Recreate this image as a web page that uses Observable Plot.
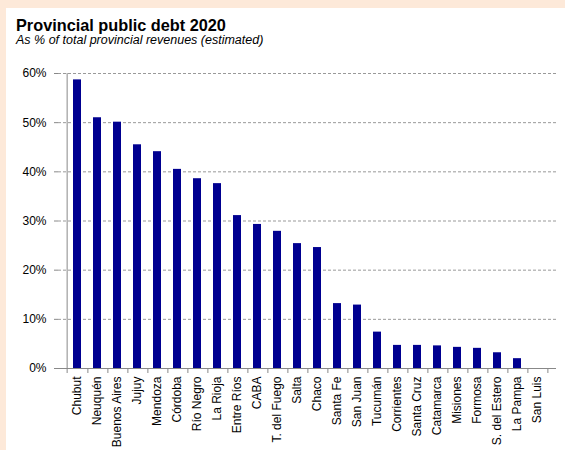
<!DOCTYPE html>
<html>
<head>
<meta charset="utf-8">
<script src="https://cdn.jsdelivr.net/npm/d3@7"></script>
<script src="https://cdn.jsdelivr.net/npm/@observablehq/plot@0.6"></script>
<style>
  html, body { margin: 0; padding: 0; }
  body { width: 565px; height: 450px; background: #FDE9D9; position: relative; overflow: hidden; font-family: "Liberation Sans", Arial, sans-serif; }
  #panel { position: absolute; left: 6px; top: 8px; width: 559px; height: 442px; background: #fff; }
  #title { position: absolute; left: 16px; top: 18px; font-size: 16.3px; line-height: 14px; font-weight: bold; color: #000; white-space: nowrap; }
  #subtitle { position: absolute; left: 16px; top: 34.6px; font-size: 12.5px; line-height: 11px; font-style: italic; color: #000; white-space: nowrap; }
  #chart { position: absolute; left: 0; top: 50px; }
</style>
</head>
<body>
<div id="panel"></div>
<div id="title">Provincial public debt 2020</div>
<div id="subtitle">As % of total provincial revenues (estimated)</div>
<div id="chart"></div>
<script>
const categories = ["Chubut", "Neuquén", "Buenos Aires", "Jujuy", "Mendoza", "Córdoba", "Río Negro", "La Rioja", "Entre Ríos", "CABA", "T. del Fuego", "Salta", "Chaco", "Santa Fe", "San Juan", "Tucumán", "Corrientes", "Santa Cruz", "Catamarca", "Misiones", "Formosa", "S. del Estero", "La Pampa", "San Luis"];
const values = [58.7, 51.0, 50.1, 45.5, 44.1, 40.5, 38.6, 37.6, 31.1, 29.3, 27.9, 25.4, 24.6, 13.2, 12.9, 7.4, 4.7, 4.7, 4.6, 4.3, 4.1, 3.2, 2.0, 0];
const yTicks = [0, 10, 20, 30, 40, 50, 60];
const yGrid = [10, 20, 30, 40, 50, 60];

const data = categories.map((c, i) => ({province: c, value: values[i]}));

const W = 565, H = 400, mL = 58, mR = 9, mT = 23, mB = 82;
const step = (W - mL - mR) / categories.length;

const chart = Plot.plot({
  width: W, height: H,
  marginTop: mT, marginBottom: mB, marginLeft: mL, marginRight: mR,
  style: {fontFamily: "'Liberation Sans', Arial, sans-serif", fontSize: "12px", background: "transparent", color: "#000", overflow: "visible"},
  x: {domain: categories, paddingInner: 0.6, paddingOuter: 0.3, label: null},
  y: {domain: [0, 60], label: null},
  marks: [
    Plot.gridY(yGrid, {stroke: "#999", strokeOpacity: 1, strokeDasharray: "3,2"}),
    Plot.barY(data, {x: "province", y: "value", fill: "#000090"}),
    Plot.ruleY([0], {stroke: "#888"}),
    Plot.ruleX([categories[0]], {dx: -step / 2, y1: 60, y2: 0, insetBottom: -5, stroke: "#888"}),
    Plot.ruleX(categories, {x: d => d, dx: step / 2, y1: 0, y2: 0, insetBottom: -5, stroke: "#888"}),
    Plot.axisY(yTicks, {tickSize: 4, tickPadding: 8, tickFormat: d => d + "%", stroke: "#888", fill: "#000", fontSize: 12, label: null}),
    Plot.axisX({tickRotate: -90, tickSize: 0, tickPadding: 8, fontSize: 12, fill: "#000", label: null})
  ]
});
document.getElementById("chart").appendChild(chart);
</script>
</body>
</html>
